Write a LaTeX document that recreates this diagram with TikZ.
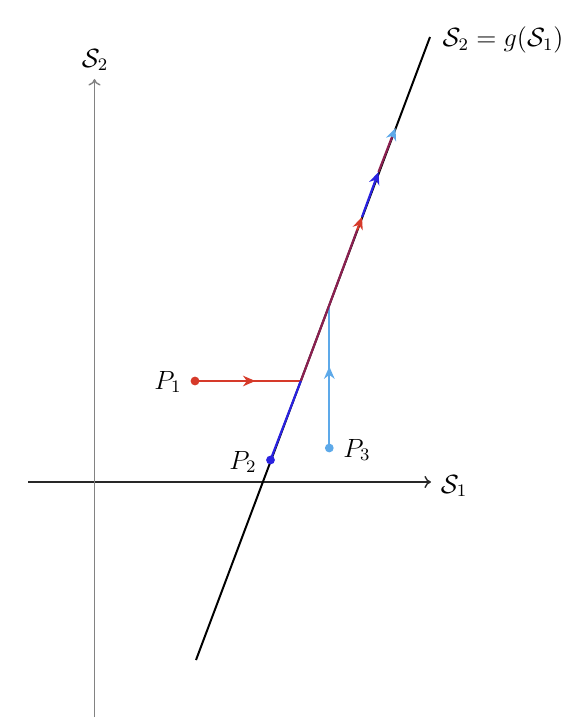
\documentclass[tikz,border=0pt]{standalone}
\usetikzlibrary{arrows.meta,decorations.markings,calc}
\definecolor{cred}{RGB}{214,58,42}
\definecolor{cblue}{RGB}{42,34,224}
\definecolor{clblue}{RGB}{93,169,233}
\definecolor{cpurple}{RGB}{139,32,80}
\definecolor{caxisv}{RGB}{130,130,130}
\definecolor{caxish}{RGB}{40,40,40}
\begin{document}
\begin{tikzpicture}[x=0.455pt,y=-0.455pt,
  dotnode/.style={circle,fill=#1,inner sep=0pt,minimum size=4pt},
  lbl/.style={inner sep=1pt,font=\large},
  tipstyle/.style={-{Stealth[length=5.6pt,width=4.8pt,inset=1.8pt]}},
  midarrow/.style={postaction={decorate},decoration={markings,
     mark=at position 0.57 with {\arrow{Stealth[length=5.6pt,width=4.8pt,inset=1.8pt]}}}},
  seg/.style={line width=1pt}]
\useasboundingbox (0,0) rectangle (586,722);
% axes
\coordinate (xa0) at (28,482);
\coordinate (xa1) at (431,482);
\coordinate (ya0) at (94.5,717);
\coordinate (ya1) at (94.5,79);
\draw[caxish,line width=0.65pt,-{To[length=3pt,width=5.5pt]}] (xa0) -- (xa1);
\draw[caxisv,line width=0.65pt,-{To[length=3pt,width=5.5pt]}] (ya0) -- (ya1);
\node[lbl] (s1) at (454,486) {$\mathcal{S}_1$};
\node[lbl] (s2) at (95,60) {$\mathcal{S}_2$};
% main line
\coordinate (l0) at (196,660);
\coordinate (l1) at (430,37);
\draw[line width=0.9pt] (l0) -- (l1);
\node[lbl] (g) at (503,40) {$\mathcal{S}_2 = g(\mathcal{S}_1)$};
% points on the line
\coordinate (C1) at (300.8,381);
\coordinate (C3) at (329.3,305);
\coordinate (R) at (362,217);
\coordinate (B) at (378.5,172);
\coordinate (L) at (395.5,128);
% P1
\node[dotnode=cred] (P1) at (195,381) {};
\node[lbl] (p1l) at (168,382) {$P_1$};
\draw[seg,cred,midarrow] (P1.center) -- (C1);
% P3
\node[dotnode=clblue] (P3) at (329.3,448) {};
\node[lbl] (p3l) at (357,450) {$P_3$};
\draw[seg,clblue,midarrow] (P3.center) -- (C3);
% P2
\node[dotnode=cblue] (P2) at (270.5,460) {};
\node[lbl] (p2l) at (243,462) {$P_2$};
\draw[seg,cblue] (P2.center) -- (C1);
% along line
\coordinate (Rb) at ($(C3)!0.85!(R)$);
\coordinate (Lb) at ($(B)!0.8!(L)$);
\draw[seg,cpurple] (C1) -- (C3);
\draw[seg,cpurple] (C3) -- (Rb);
\draw[seg,cred,tipstyle] (Rb) -- (R);
\draw[seg,cblue,tipstyle] (R) -- (B);
\draw[seg,cpurple] (B) -- (Lb);
\draw[seg,clblue,tipstyle] (Lb) -- (L);
\end{tikzpicture}
\end{document}
